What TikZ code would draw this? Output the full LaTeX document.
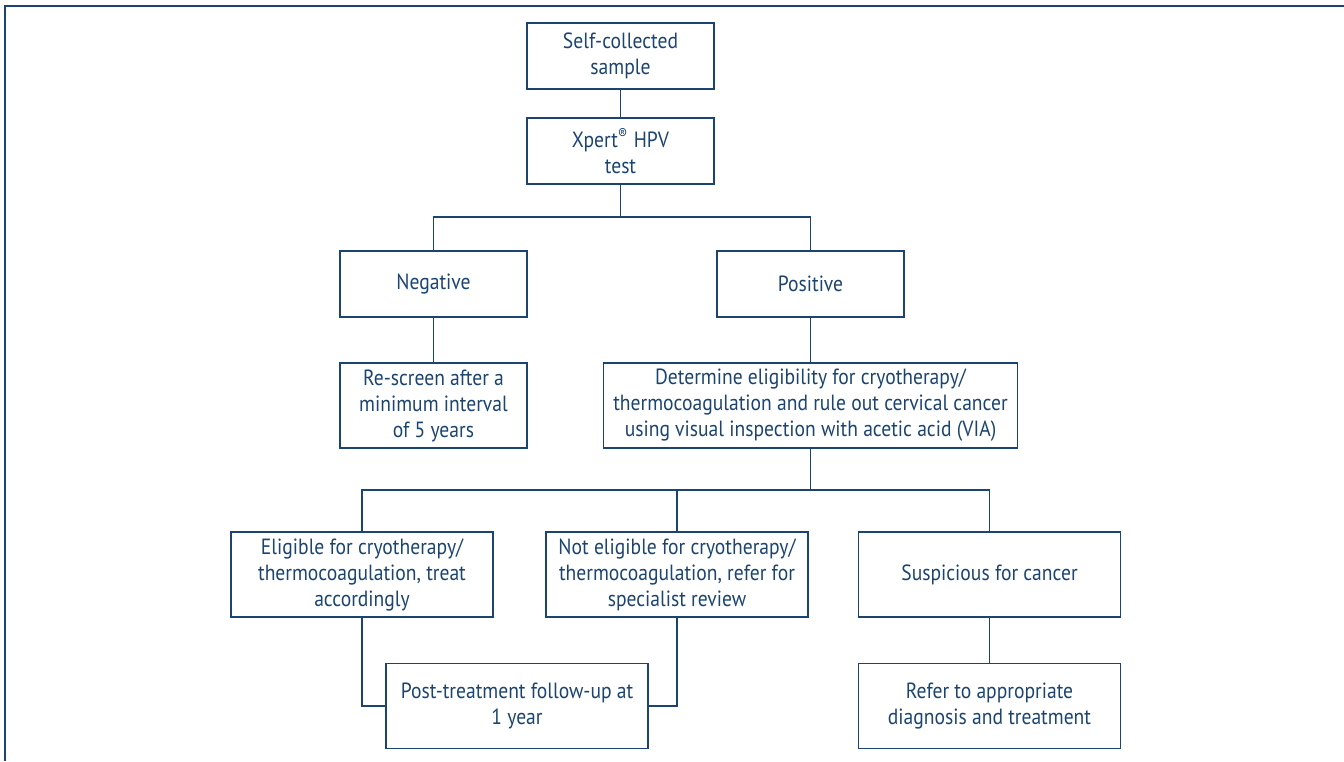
\documentclass[tikz,border=0pt]{standalone}
\usepackage{fontspec}
\setmainfont[FakeStretch=0.89]{PT Sans}
\usepackage{tikz}
\definecolor{navy}{HTML}{1B4470}

\begin{document}
\begin{tikzpicture}[x=0.5pt, y=-0.5pt,
  box/.style={draw=navy, line width=0.6pt, inner sep=0pt, align=center, text=navy,
    font=\fontsize{11}{13}\selectfont},
  shortbox/.style={box, minimum width=93.5pt, minimum height=33pt},
  tallbox/.style={box, minimum width=93.5pt, minimum height=42.5pt},
  widebox/.style={box, minimum width=131pt, minimum height=42.5pt},
  link/.style={draw=navy, line width=0.6pt}]
  \useasboundingbox (0, 0) rectangle (1344, 761);
  \draw [navy, line width=1pt] (1344, 6) -- (5, 6) -- (5, 761);
  \node [shortbox] (T) at (620.5, 56) {Self-collected\\sample};
  \node [shortbox] (TM) at (620.5, 151) {Xpert\textsuperscript{\textregistered} HPV\\test};
  \coordinate (J1) at (620.5, 217);
  \draw [link] (T) -- (TM);
  \draw [link] (TM) -- (J1);
  \node [shortbox] (LM) at (433.5, 284) {Negative};
  \node [shortbox] (RM) at (810.5, 284) {Positive};
  \draw [link] (LM) |- (J1) -| (RM);
  \node [tallbox] (LMB) at (433.5, 405.5) {Re-screen after a\\minimum interval\\of 5 years};
  \node [tallbox, minimum width=207pt] (RMB) at (810.5, 405.5) {Determine eligibility for cryotherapy/\\thermocoagulation and rule out cervical cancer\\using visual inspection with acetic acid (VIA)};
  \draw [link] (LM) -- (LMB);
  \draw [link] (RM) -- (RMB);
  \coordinate (J2) at (810.5, 490);
  \draw [link] (RMB) -- (J2);
  \node [widebox] (LB) at (362, 574.5) {Eligible for cryotherapy/\\thermocoagulation, treat\\accordingly};
  \node [widebox] (MB) at (677, 574.5) {Not eligible for cryotherapy/\\thermocoagulation, refer for\\specialist review};
  \node [widebox] (RB) at (989.5, 574.5) {Suspicious for cancer};
  \draw [link] (LB) |- (J2) -| (RB);
  \draw [link] (MB) -- (MB |- J2);
  \node [widebox] (LBB) at (517, 706) {Post-treatment follow-up at\\1 year};
  \node [widebox] (RBB) at (989.5, 706) {Refer to appropriate\\diagnosis and treatment};
  \draw [link] (LB) |- (LBB);
  \draw [link] (MB) |- (LBB);
  \draw [link] (RB) -- (RBB);
\end{tikzpicture}
\end{document}
